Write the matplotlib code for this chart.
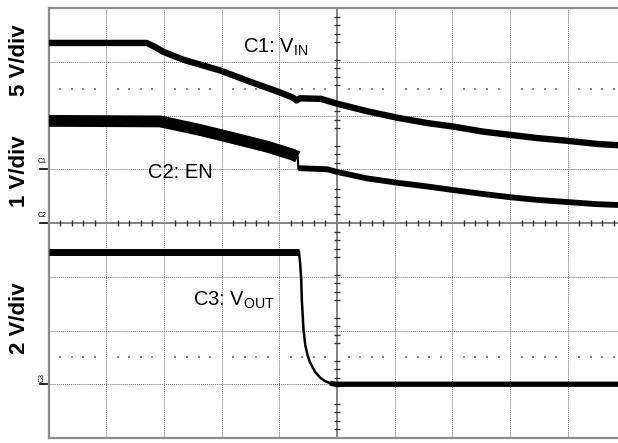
import numpy as np
import matplotlib.pyplot as plt

plt.rcParams['font.family'] = ['Liberation Sans', 'DejaVu Sans']
plt.rcParams['mathtext.fontset'] = 'custom'
plt.rcParams['mathtext.rm'] = 'Liberation Sans'
plt.rcParams['mathtext.it'] = 'Liberation Sans'

# traces in scope divisions (x: 0..10, y: 0..8 from bottom)
vin_x = [0, 1.70, 1.84, 1.98, 2.33, 2.97, 3.49, 4.01, 4.24, 4.30, 4.36, 4.72, 5.00,
         5.52, 6.04, 6.56, 7.04, 7.53, 8.00, 8.47, 8.99, 9.51, 10.0]
vin_y = [7.35, 7.35, 7.28, 7.19, 7.04, 6.84, 6.63, 6.43, 6.33, 6.28, 6.32, 6.31, 6.22,
         6.08, 5.96, 5.86, 5.79, 5.70, 5.64, 5.58, 5.53, 5.47, 5.44]

en_x = [0, 1.93, 2.11, 2.63, 3.20, 3.79, 4.24, 4.32, 4.33, 4.83, 5.00,
        5.52, 6.04, 6.56, 7.04, 7.53, 8.00, 8.47, 8.99, 9.51, 10.0]
en_y = [5.90, 5.89, 5.85, 5.73, 5.58, 5.42, 5.27, 5.23, 5.02, 5.00, 4.95,
        4.83, 4.75, 4.68, 4.61, 4.54, 4.48, 4.43, 4.39, 4.35, 4.33]

vout_x = [0, 4.34, 4.36, 4.38, 4.39, 4.42, 4.45, 4.49, 4.53, 4.62, 4.71,
          4.79, 4.88, 4.98, 10.0]
vout_y = [3.46, 3.46, 3.27, 2.94, 2.57, 2.01, 1.73, 1.54, 1.41, 1.23, 1.12,
          1.06, 1.02, 1.00, 1.00]

scale_labels = ['5 V/div', '1 V/div', '2 V/div']
markers = ['C1', 'C2', 'C3']
marker_levels = [5.0, 4.0, 1.0]

W, H = 618, 443
fig = plt.figure(figsize=(W / 100, H / 100), dpi=100)
ax = fig.add_axes([48.5 / W, 5 / H, 577 / W, 430 / H])
ax.set_xlim(0, 10)
ax.set_ylim(0, 8)
ax.set_xticks([])
ax.set_yticks([])
for sp in ax.spines.values():
    sp.set_color('#8c8c8c')
    sp.set_linewidth(1.6)

# grid
for i in range(1, 10):
    if i != 5:
        ax.axvline(i, color='#6e6e6e', lw=0.7, ls=(0, (1, 1)), zorder=1)
for j in range(1, 8):
    if j != 4:
        ax.axhline(j, color='#6e6e6e', lw=0.7, ls=(0, (1, 1)), zorder=1)
ax.axvline(5, color='#7a7a7a', lw=1.3, zorder=1)
ax.axhline(4, color='#7a7a7a', lw=1.3, zorder=1)

minor = np.array([k * 0.2 for k in range(1, 50) if k % 5 != 0])
ax.vlines(minor, 4 - 0.06, 4 + 0.06, color='#333333', lw=1.0, zorder=1)
ax.hlines(minor * 0.8, 5 - 0.055, 5 + 0.055, color='#333333', lw=1.0, zorder=1)
for yy in [6.5, 1.5]:
    ax.scatter(minor, np.full(len(minor), yy), s=1.3, marker='s',
               color='#8a8a8a', linewidths=0, zorder=1)

# traces
kw = dict(color='black', solid_joinstyle='round', zorder=3)
ax.plot(vin_x, vin_y, lw=4.6, solid_capstyle='butt', **kw)
ax.plot(en_x[:8], en_y[:8], lw=8.5, solid_capstyle='butt', **kw)
ax.plot(en_x[7:9], en_y[7:9], lw=1.5, **kw)
ax.plot(en_x[8:], en_y[8:], lw=4.2, solid_capstyle='butt', **kw)
ax.plot(vout_x[:2], vout_y[:2], lw=5, solid_capstyle='butt', **kw)
ax.plot(vout_x[1:14], vout_y[1:14], lw=1.8, **kw)
ax.plot(vout_x[12:], vout_y[12:], lw=3.8, solid_capstyle='butt', **kw)

ax.text(3.37, 7.16, r'C1: V$_{\mathrm{IN}}$', fontsize=14.5, va='baseline', zorder=4)
ax.text(1.72, 4.84, 'C2: EN', fontsize=14.5, va='baseline', zorder=4)
ax.text(2.50, 2.47, r'C3: V$_{\mathrm{OUT}}$', fontsize=14.5, va='baseline', zorder=4)

# channel ground markers
for name, lvl in zip(markers, marker_levels):
    ax.plot([-0.14, 0], [lvl, lvl], color='black', lw=1.2, clip_on=False)
    if name == 'C3':
        ax.text(-0.11, lvl + 0.05, name, fontsize=5, rotation=90,
                ha='center', va='bottom')
    else:
        ax.text(-0.11, lvl + 0.07, name, fontsize=5, ha='center', va='bottom')

for lab, yc in zip(scale_labels, [60, 171, 318]):
    fig.text(19.5 / W, 1 - yc / H, lab, rotation=90, fontsize=16,
             fontweight='bold', ha='center', va='center')

fig.savefig('out.png', dpi=100)
